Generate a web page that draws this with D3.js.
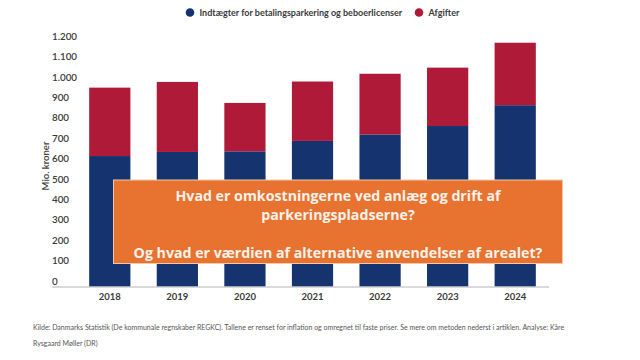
<!DOCTYPE html>
<html><head><meta charset="utf-8">
<script src="https://cdn.jsdelivr.net/npm/d3@7"></script>
<style>html,body{margin:0;padding:0;background:#fff;}svg{display:block;}</style>
</head><body>
<svg id="c" width="640" height="360"></svg>
<script>
const years = ["2018","2019","2020","2021","2022","2023","2024"];
const indtaegter = [639, 659, 662, 713, 745, 786, 888];
const afgifter = [335, 343, 237, 291, 297, 286, 306];
const yTicks = [0,100,200,300,400,500,600,700,800,900,1000,1100,1200];
const seriesNames = ["Indtægter for betalingsparkering og beboerlicenser", "Afgifter"];
const colors = ["#14336f", "#ae1a38"];
const questionLines = ["Hvad er omkostningerne ved anlæg og drift af", "parkeringspladserne?", "", "Og hvad er værdien af alternative anvendelser af arealet?"];
const sourceLines = ["Kilde: Danmarks Statistik (De kommunale regnskaber REGKC). Tallene er renset for inflation og omregnet til faste priser. Se mere om metoden nederst i artiklen. Analyse: Kåre", "Rysgaard Møller (DR)"];

const svg = d3.select("#c");
const font = "Lato, 'Open Sans', sans-serif";

const x = d3.scaleBand().domain(years).range([76, 549]).paddingInner(0.39).paddingOuter(0.195);
const y = d3.scaleLinear().domain([0, 1200]).range([286.5, 41.5]);

const data = years.map((yr, i) => ({year: yr, a: indtaegter[i], b: afgifter[i]}));
const stack = d3.stack().keys(["a", "b"])(data);

svg.append("g").selectAll("g").data(stack).join("g")
  .attr("fill", (d, i) => colors[i])
  .selectAll("rect").data(d => d).join("rect")
  .attr("x", d => x(d.data.year))
  .attr("width", x.bandwidth())
  .attr("y", d => y(d[1]))
  .attr("height", d => y(d[0]) - y(d[1]));

// x axis line
svg.append("line").attr("x1", 52).attr("x2", 549).attr("y1", y(0)+0.5).attr("y2", y(0)+0.5)
  .attr("stroke", "#b5b5b5").attr("stroke-width", 1);

// x labels
const xAxis = d3.axisBottom(x).tickSize(0).tickPadding(6);
const gx = svg.append("g").attr("transform", `translate(0,${y(0)+1})`).call(xAxis);
gx.select(".domain").remove();
gx.selectAll("text").attr("font-family", font).attr("font-size", 9.5).attr("font-weight", 700).attr("fill", "#3a3a3a");

// y labels (above value line, left aligned)
const fmt = v => d3.format(",")(v).replace(/,/g, ".");
svg.append("g").selectAll("text").data(yTicks).join("text")
  .attr("x", 52).attr("y", d => y(d) - 1.8)
  .attr("font-family", font).attr("font-size", 9.8).attr("font-weight", 600).attr("fill", "#3a3a3a")
  .text(fmt);

// y title
svg.append("text").attr("transform", "translate(45.5,166) rotate(-90)")
  .attr("text-anchor", "middle").attr("dominant-baseline", "central")
  .attr("font-family", font).attr("font-size", 9.5).attr("font-weight", 600).attr("fill", "#444")
  .text("Mio. kroner");

// legend
const leg = svg.append("g");
const legX = [190, 419];
seriesNames.forEach((n, i) => {
  leg.append("circle").attr("cx", legX[i]).attr("cy", 12.5).attr("r", 4.3).attr("fill", colors[i]);
  leg.append("text").attr("x", legX[i] + 9.5).attr("y", 12.5).attr("dominant-baseline", "central")
    .attr("font-family", font).attr("font-size", 9).attr("font-weight", 700).attr("fill", "#3a3a3a").text(n);
});

// orange box
svg.append("rect").attr("x", 113.5).attr("y", 180).attr("width", 449).attr("height", 83.5)
  .attr("fill", "#e8722f").attr("stroke", "#f3c9a8").attr("stroke-width", 1);
const qY = [195, 214.5, 233, 252];
questionLines.forEach((t, i) => {
  if (!t) return;
  svg.append("text").attr("x", 338).attr("y", qY[i]).attr("text-anchor", "middle").attr("dominant-baseline", "central")
    .attr("font-family", "'Open Sans', sans-serif").attr("font-size", 14.2).attr("font-weight", 700).attr("fill", "#fdf3ec").text(t);
});

// source
sourceLines.forEach((t, i) => {
  svg.append("text").attr("x", 33).attr("y", 327 + i * 15.5).attr("dominant-baseline", "central")
    .attr("font-family", font).attr("font-size", 7).attr("fill", "#555").text(t);
});
</script>
</body></html>
